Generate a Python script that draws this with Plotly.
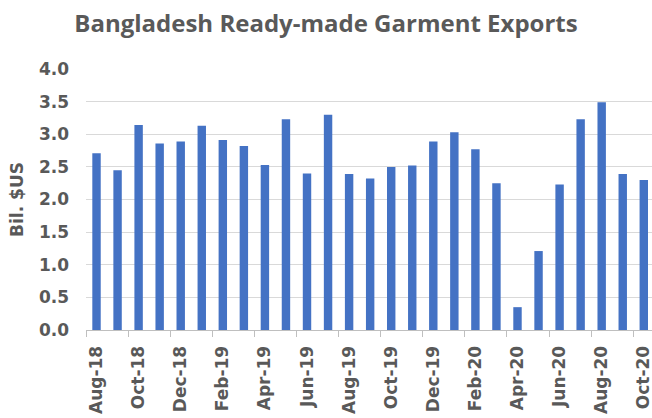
import plotly.graph_objects as go

months = ["Aug-18", "Sep-18", "Oct-18", "Nov-18", "Dec-18", "Jan-19", "Feb-19", "Mar-19",
          "Apr-19", "May-19", "Jun-19", "Jul-19", "Aug-19", "Sep-19", "Oct-19", "Nov-19",
          "Dec-19", "Jan-20", "Feb-20", "Mar-20", "Apr-20", "May-20", "Jun-20", "Jul-20",
          "Aug-20", "Sep-20", "Oct-20"]
exports = [2.71, 2.45, 3.14, 2.86, 2.89, 3.13, 2.91, 2.82,
           2.53, 3.23, 2.40, 3.30, 2.39, 2.32, 2.50, 2.52,
           2.89, 3.03, 2.77, 2.25, 0.35, 1.21, 2.23, 3.23,
           3.49, 2.39, 2.30]
y_ticks = [0.0, 0.5, 1.0, 1.5, 2.0, 2.5, 3.0, 3.5, 4.0]

idx = list(range(len(months)))
gray = "#595959"
lab_font = "DejaVu Sans"

fig = go.Figure(go.Bar(x=idx, y=exports, marker=dict(color="#4472C4", line=dict(width=0)),
                       width=0.4))

fig.update_layout(
    width=652, height=418,
    margin=dict(l=86, r=0, t=69, b=88, autoexpand=False),
    paper_bgcolor="white", plot_bgcolor="white",
    showlegend=False,
    title=dict(text="<b>Bangladesh Ready-made Garment Exports</b>", x=0.5, xanchor="center",
               xref="container",
               y=1 - 24/418, yanchor="middle",
               font=dict(family="Open Sans", size=24, color=gray)),
    font=dict(family=lab_font, color=gray),
)
fig.update_xaxes(
    range=[-0.5, 26.39],
    tickmode="array", tickvals=idx[::2], ticktext=["<b>%s</b>" % m for m in months[::2]],
    tickangle=-90, tickfont=dict(family=lab_font, size=17, color=gray),
    ticks="", showgrid=False, zeroline=False, automargin=False,
    ticklabelstandoff=8, ticklabeloverflow="allow",
    showline=True, linecolor="#bfbfbf", linewidth=1,
    minor=dict(tickvals=[i - 0.5 for i in idx[::2]] + [26.5], ticks="outside", ticklen=6,
               tickcolor="#bfbfbf", showgrid=False),
)
fig.update_yaxes(
    range=[0, 4.0], tickmode="array", tickvals=y_ticks,
    ticktext=["<b>%.1f</b>" % v for v in y_ticks],
    tickfont=dict(family=lab_font, size=17, color=gray),
    ticklabelstandoff=16, automargin=False,
    showgrid=True, gridcolor="#d9d9d9", gridwidth=1, zeroline=False,
    showline=False, ticks="",
    title=dict(text="<b>Bil. $US</b>", font=dict(family=lab_font, size=17, color=gray), standoff=10),
)
fig.write_html("out.html", config={"displayModeBar": False},
               post_script="document.body.style.margin='0';document.body.style.overflow='hidden';")
